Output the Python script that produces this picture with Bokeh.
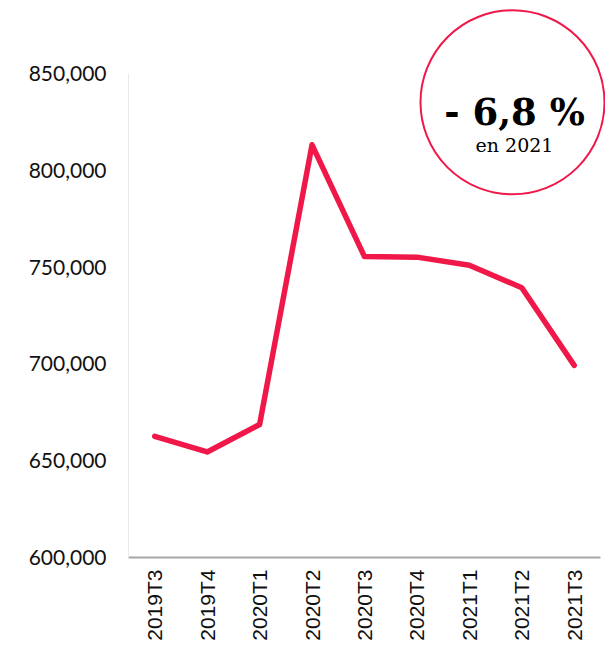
from bokeh.plotting import figure
from bokeh.models import Range1d, FixedTicker, NumeralTickFormatter, ColumnDataSource
from bokeh.core.properties import value
from bokeh.embed import file_html
from bokeh.resources import INLINE

# ---- data ----
quarters = ["2019T3", "2019T4", "2020T1", "2020T2", "2020T3",
            "2020T4", "2021T1", "2021T2", "2021T3"]
values = [662600, 654500, 668700, 813100, 755400, 755100, 750900, 739300, 699200]
y_ticks = [600000, 650000, 700000, 750000, 800000, 850000]
badge_main = "- 6,8 %"
badge_sub = "en 2021"

RED = "#EF1848"

# ---- layout geometry (screen px, origin at figure top-left) ----
W, H = 605, 643
LEFT, BOTTOM = 128, 85
frame_w = W - LEFT
frame_h = H - BOTTOM
px_per_cat = 52.44
px_per_unit = 1.94 / 1000.0
y0 = 600000
y1 = y0 + frame_h / px_per_unit
x0 = -0.5
x1 = x0 + frame_w / px_per_cat

def px_to_x(px):
    return x0 + (px - LEFT) / px_per_cat

def py_to_y(py):
    return y0 + (frame_h - py) / px_per_unit

p = figure(width=W, height=H, output_backend="svg", toolbar_location=None,
           x_range=Range1d(x0, x1), y_range=Range1d(y0, y1),
           min_border_left=LEFT, min_border_bottom=BOTTOM,
           min_border_top=0, min_border_right=0)
p.outline_line_color = None
p.grid.visible = False
p.background_fill_color = "white"
p.border_fill_color = "white"

xs = list(range(len(quarters)))
src = ColumnDataSource(dict(x=xs, y=values))
p.line("x", "y", source=src, line_color=RED, line_width=5.5,
       line_join="round", line_cap="round")

# x axis
p.xaxis.ticker = FixedTicker(ticks=xs)
p.xaxis.major_label_overrides = {i: q for i, q in enumerate(quarters)}
p.xaxis.major_label_orientation = 1.5707963
p.xaxis.bounds = (-0.5, len(quarters) - 0.5)
p.xaxis.axis_line_color = "#A6A6A6"
p.xaxis.axis_line_width = 2
p.xaxis.major_tick_line_color = None
p.xaxis.minor_tick_line_color = None
p.xaxis.major_label_text_font = "Liberation Sans"
p.xaxis.major_label_text_font_size = "21px"
p.xaxis.major_label_text_color = "#111111"
p.xaxis.major_label_standoff = 6

# y axis
p.yaxis.ticker = FixedTicker(ticks=y_ticks)
p.yaxis.formatter = NumeralTickFormatter(format="0,0")
p.yaxis.bounds = (y_ticks[0], y_ticks[-1])
p.yaxis.axis_line_color = "#E8EAEC"
p.yaxis.axis_line_width = 1
p.yaxis.major_tick_line_color = None
p.yaxis.minor_tick_line_color = None
p.yaxis.major_label_text_font = "Lato"
p.yaxis.major_label_text_font_size = "21px"
p.yaxis.major_label_text_color = "#111111"
p.yaxis.major_label_standoff = 16

# badge
bx = 512
cx, cy = px_to_x(bx), py_to_y(102)
p.scatter(x=[cx], y=[cy], size=184, marker="circle", fill_color=None,
          line_color=RED, line_width=2)
p.text(x=[px_to_x(bx + 2)], y=[py_to_y(112)], text=[badge_main],
       text_font=value("DejaVu Serif"), text_font_style="bold",
       text_font_size="37px", text_align="center", text_baseline="alphabetic",
       text_color="#000000")
p.text(x=[px_to_x(bx + 2)], y=[py_to_y(145)], text=[badge_sub],
       text_font=value("DejaVu Serif"), text_font_size="19px",
       text_align="center", text_baseline="alphabetic", text_color="#000000")

open("out.html", "w").write(file_html(p, INLINE))
